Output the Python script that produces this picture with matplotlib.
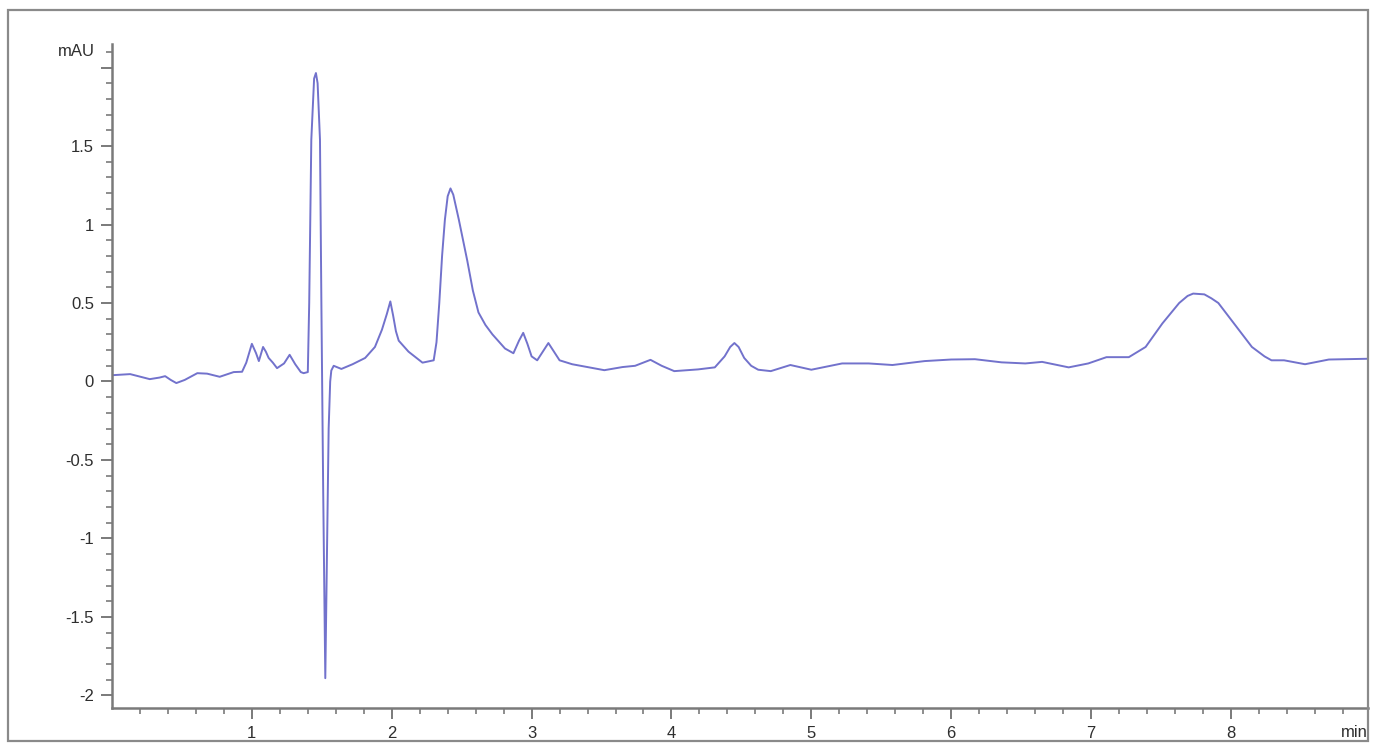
import matplotlib.pyplot as plt
from matplotlib.patches import Rectangle

# 读出的色谱数据 (min, mAU)
time_min = [0.00, 0.13, 0.27, 0.34, 0.38, 0.42, 0.46, 0.52, 0.61, 0.68, 0.77, 0.87, 0.93,
            0.96, 1.00, 1.03, 1.05, 1.08, 1.10, 1.12, 1.15, 1.18, 1.23, 1.27, 1.31, 1.35,
            1.37, 1.40, 1.41, 1.425, 1.445, 1.458, 1.47, 1.487, 1.497, 1.51, 1.525, 1.538,
            1.549, 1.56, 1.568, 1.585, 1.64, 1.72, 1.81, 1.88, 1.93, 1.965, 1.99, 2.01,
            2.03, 2.05, 2.12, 2.22, 2.30, 2.32, 2.34, 2.36, 2.38, 2.40, 2.42, 2.44, 2.48,
            2.54, 2.58, 2.62, 2.67, 2.72, 2.81, 2.87, 2.91, 2.94, 2.97, 3.00, 3.04, 3.08,
            3.12, 3.16, 3.20, 3.29, 3.41, 3.52, 3.65, 3.74, 3.85, 3.93, 4.02, 4.19, 4.31,
            4.38, 4.42, 4.45, 4.48, 4.52, 4.57, 4.62, 4.71, 4.85, 5.00, 5.22, 5.41, 5.58,
            5.81, 6.00, 6.17, 6.36, 6.53, 6.65, 6.84, 6.98, 7.11, 7.27, 7.39, 7.51, 7.63,
            7.69, 7.73, 7.81, 7.86, 7.91, 8.03, 8.15, 8.24, 8.29, 8.38, 8.53, 8.70, 8.99]
signal_mau = [0.040, 0.047, 0.015, 0.025, 0.034, 0.010, -0.010, 0.010, 0.053, 0.050, 0.030,
              0.060, 0.062, 0.12, 0.240, 0.18, 0.130, 0.220, 0.19, 0.150, 0.12, 0.085,
              0.115, 0.170, 0.11, 0.06, 0.053, 0.06, 0.5, 1.54, 1.93, 1.965, 1.9, 1.54,
              0.5, -0.7, -1.89, -1.0, -0.3, 0.0, 0.07, 0.10, 0.08, 0.11, 0.15, 0.22, 0.33,
              0.43, 0.51, 0.42, 0.32, 0.26, 0.19, 0.12, 0.135, 0.25, 0.50, 0.80, 1.03,
              1.18, 1.23, 1.19, 1.03, 0.77, 0.58, 0.44, 0.36, 0.30, 0.21, 0.18, 0.26,
              0.31, 0.24, 0.16, 0.135, 0.19, 0.245, 0.19, 0.135, 0.11, 0.09, 0.072, 0.092,
              0.10, 0.138, 0.10, 0.066, 0.077, 0.09, 0.16, 0.22, 0.245, 0.22, 0.15, 0.10,
              0.075, 0.066, 0.105, 0.075, 0.115, 0.115, 0.105, 0.13, 0.14, 0.142, 0.122,
              0.115, 0.125, 0.09, 0.115, 0.155, 0.155, 0.22, 0.37, 0.50, 0.545, 0.56,
              0.555, 0.53, 0.50, 0.36, 0.22, 0.16, 0.135, 0.135, 0.11, 0.14, 0.145]

x_ticks = [1, 2, 3, 4, 5, 6, 7, 8]
y_ticks = [-2, -1.5, -1, -0.5, 0, 0.5, 1, 1.5, 2]
y_labels = ['-2', '-1.5', '-1', '-0.5', '0', '0.5', '1', '1.5', '']

plt.rcParams['font.family'] = ['Liberation Sans', 'DejaVu Sans']
axis_gray = '#7a7a7a'
text_gray = '#2e2e2e'

fig = plt.figure(figsize=(13.79, 7.54), dpi=100)
# 外框
fig.patches.append(Rectangle((8 / 1379, 13 / 754), 1360 / 1379, 731 / 754,
                             transform=fig.transFigure, fill=False,
                             edgecolor='#8a8a8a', lw=1.6))

ax = fig.add_axes([112 / 1379, 46 / 754, 1256 / 1379, 664 / 754])
ax.plot(time_min, signal_mau, color='#7272cc', lw=1.4)

ax.set_xlim(0, 8.98)
ax.set_ylim(-2.08, 2.15)

ax.spines['top'].set_visible(False)
ax.spines['right'].set_visible(False)
for s in ['left', 'bottom']:
    ax.spines[s].set_color(axis_gray)
    ax.spines[s].set_linewidth(1.8)

ax.set_xticks(x_ticks)
ax.set_xticklabels([str(v) for v in x_ticks])
ax.set_xticks([i * 0.2 for i in range(1, 45)], minor=True)
ax.set_yticks(y_ticks)
ax.set_yticklabels(y_labels)
ax.set_yticks([-2 + i * 0.1 for i in range(42)], minor=True)

ax.tick_params(which='major', length=8, width=1.4, color=axis_gray,
               labelsize=12, labelcolor=text_gray, pad=5)
ax.tick_params(which='minor', length=4, width=1.2, color=axis_gray)

ax.text(-0.12, 2.1, 'mAU', ha='right', va='center', fontsize=12, color=text_gray,
        transform=ax.transData)
ax.text(1.0, -0.037, 'min', ha='right', va='center', fontsize=12, color=text_gray,
        transform=ax.transAxes)

plt.savefig('out.png', dpi=100)
